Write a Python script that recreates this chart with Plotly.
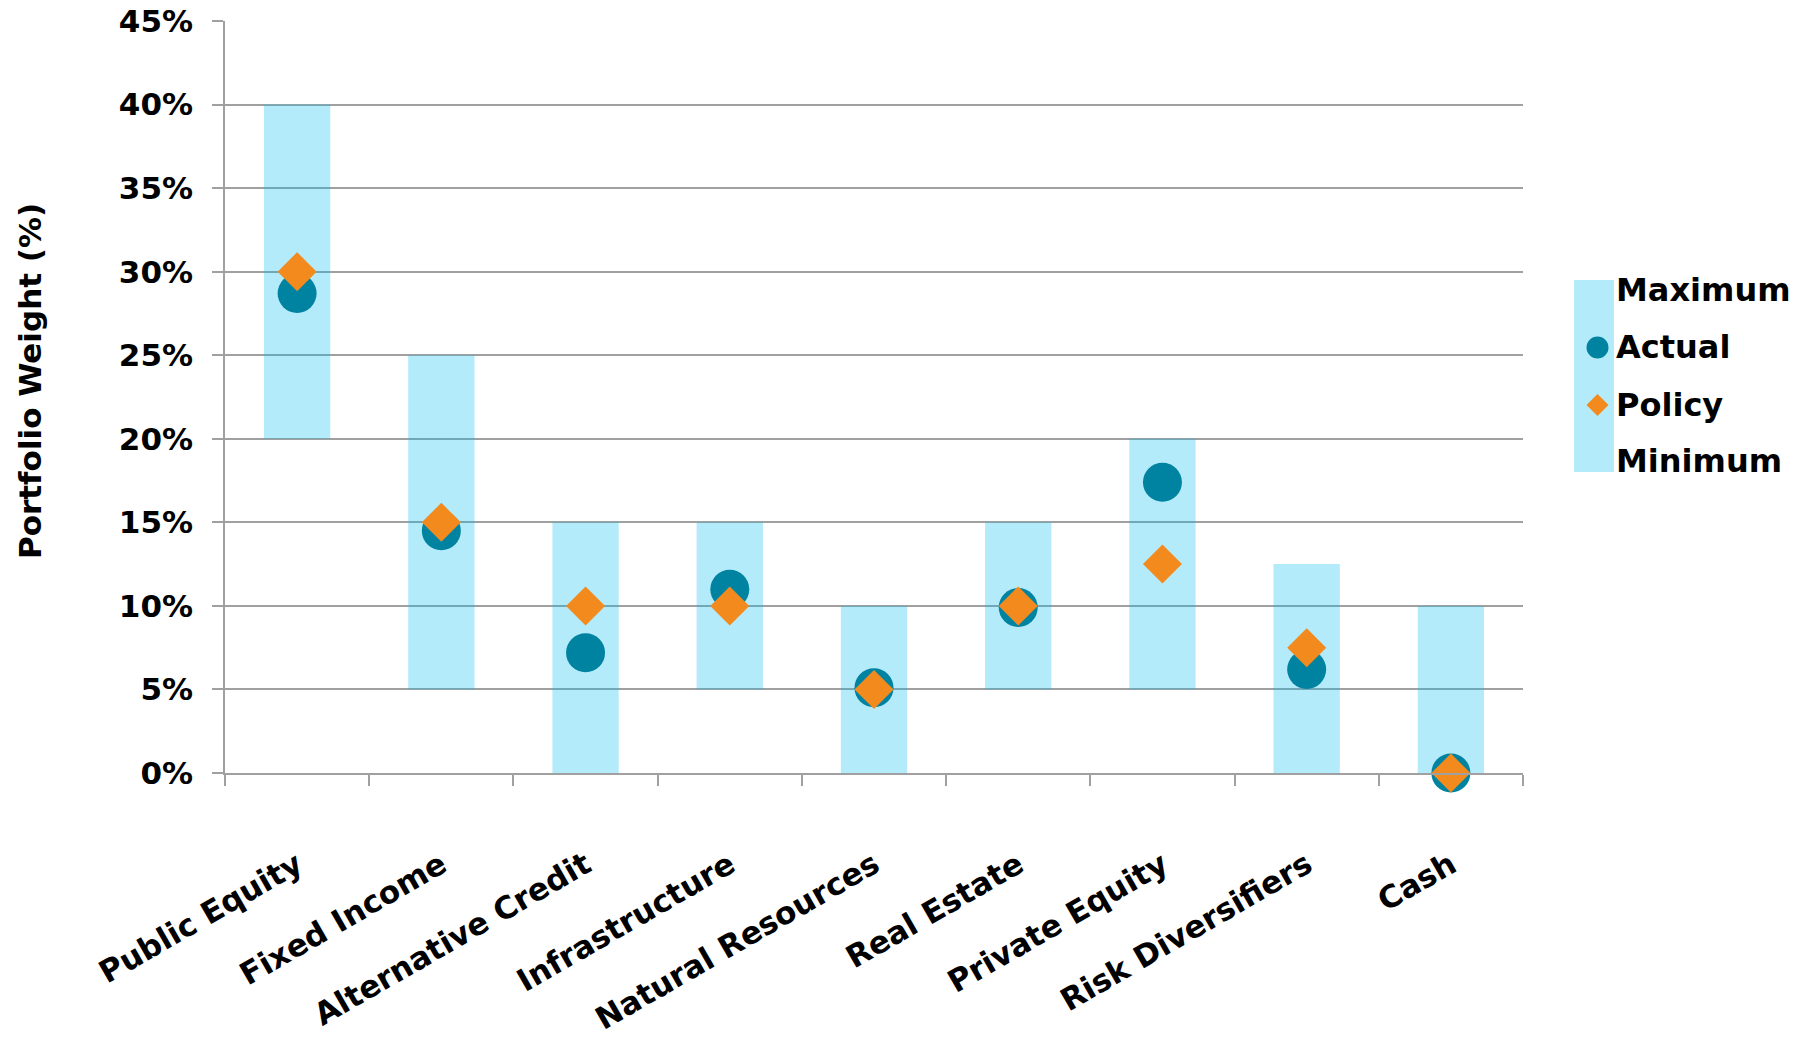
import plotly.graph_objects as go

categories = ["Public Equity", "Fixed Income", "Alternative Credit", "Infrastructure",
              "Natural Resources", "Real Estate", "Private Equity", "Risk Diversifiers", "Cash"]
minimum = [20, 5, 0, 5, 0, 5, 5, 0, 0]
maximum = [40, 25, 15, 15, 10, 15, 20, 12.5, 10]
actual = [28.7, 14.5, 7.2, 11.0, 5.1, 9.9, 17.4, 6.2, 0.0]
policy = [30, 15, 10, 10, 5, 10, 12.5, 7.5, 0]
y_ticks = [0, 5, 10, 15, 20, 25, 30, 35, 40, 45]

FONT = "DejaVu Sans"
FS = 31
BAR_RGBA = "rgba(5,188,238,0.3)"   # reads as #B4EBFA on white, lets gridlines show through
BAR_SOLID = "#B4EBFA"
TEAL = "#0083A1"
ORANGE = "#F28A1E"
GRID = "#A0A0A0"

fig = go.Figure()
fig.add_trace(go.Bar(
    x=categories, y=[mx - mn for mx, mn in zip(maximum, minimum)], base=minimum,
    width=0.46, marker=dict(color=BAR_RGBA, line=dict(width=0)),
    name="Range", showlegend=False))
fig.add_trace(go.Scatter(
    x=categories, y=actual, mode="markers", name="Actual", showlegend=False,
    marker=dict(symbol="circle", size=39, color=TEAL, line=dict(width=0)), cliponaxis=False))
fig.add_trace(go.Scatter(
    x=categories, y=policy, mode="markers", name="Policy", showlegend=False,
    marker=dict(symbol="diamond", size=30, color=ORANGE, line=dict(width=0)), cliponaxis=False))

L, R, T, B = 225, 281, 21, 265
W, H = 1804, 1038
PW, PH = W - L - R, H - T - B

def px(xp):
    return (xp - L) / PW

def py(yp):
    return (H - B - yp) / PH

shapes = [
    dict(type="rect", xref="paper", yref="paper", x0=px(1574), x1=px(1614), y0=py(472), y1=py(280),
         fillcolor=BAR_SOLID, line=dict(width=0), layer="above"),
    dict(type="circle", xref="paper", yref="paper", xsizemode="pixel", ysizemode="pixel",
         xanchor=px(1597.5), yanchor=py(347.5), x0=-11, x1=11, y0=-11, y1=11,
         fillcolor=TEAL, line=dict(width=0), layer="above"),
    dict(type="path", xref="paper", yref="paper", xsizemode="pixel", ysizemode="pixel",
         xanchor=px(1597.5), yanchor=py(405), path="M 0,11 L 11,0 L 0,-11 L -11,0 Z",
         fillcolor=ORANGE, line=dict(width=0), layer="above"),
]

annotations = []
for label, yc in [("Maximum", 289.5), ("Actual", 346.7), ("Policy", 405), ("Minimum", 460.5)]:
    annotations.append(dict(text=f"<b>{label}</b>", xref="paper", yref="paper", x=px(1614), y=py(yc),
                            xanchor="left", yanchor="middle", showarrow=False,
                            font=dict(family=FONT, size=32, color="black")))
annotations.append(dict(text="<b>Portfolio Weight (%)</b>", xref="paper", yref="paper",
                        x=px(30), y=py(381), xanchor="center", yanchor="middle", textangle=-90,
                        showarrow=False, font=dict(family=FONT, size=31, color="black")))

fig.update_layout(
    width=W, height=H,
    margin=dict(l=L, r=R, t=T, b=B, pad=0),
    paper_bgcolor="white", plot_bgcolor="white",
    showlegend=False,
    font=dict(family=FONT, size=FS, color="black"),
    shapes=shapes, annotations=annotations,
    bargap=0.54,
    xaxis=dict(
        type="category", categoryorder="array", categoryarray=categories,
        range=[-0.5, len(categories) - 0.5],
        tickson="boundaries", ticks="outside", ticklen=11, tickwidth=1.5, tickcolor=GRID,
        showline=True, linecolor=GRID, linewidth=1.5, showgrid=False,
        tickangle=-30, ticklabelstandoff=60,
        tickfont=dict(family=FONT, size=FS, color="black", weight="bold"),
        automargin=False,
    ),
    yaxis=dict(
        range=[0, 45], tickvals=y_ticks, ticktext=[f"{v}%" for v in y_ticks],
        ticks="outside", ticklen=11, tickwidth=1.5, tickcolor=GRID,
        showline=True, linecolor=GRID, linewidth=1.5,
        showgrid=True, gridcolor=GRID, gridwidth=1.5, zeroline=False,
        ticklabelstandoff=13,
        tickfont=dict(family=FONT, size=FS, color="black", weight="bold"),
        automargin=False,
    ),
)

fig.write_html("out.html")
